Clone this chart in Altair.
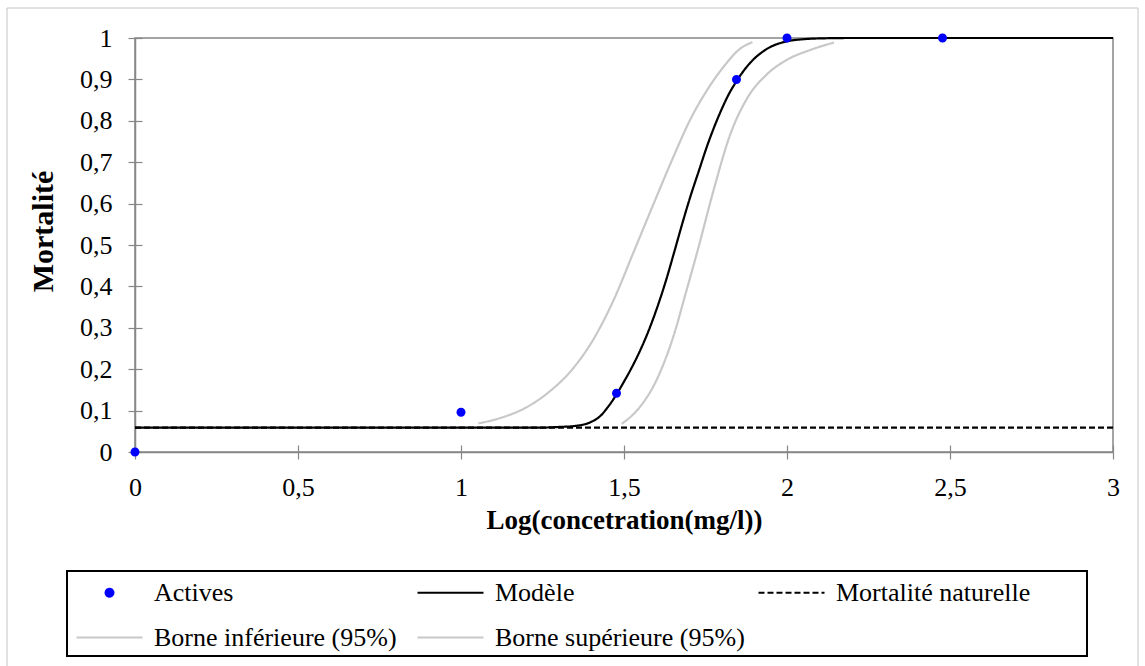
import altair as alt
import pandas as pd

# Series names, in legend order
SERIES = [
    "Actives",
    "Modèle",
    "Mortalité naturelle",
    "Borne inférieure (95%)",
    "Borne supérieure (95%)",
]
COLORS = ["#0000FF", "#000000", "#000000", "#C8C8C8", "#C8C8C8"]
DASHES = [[1, 0], [1, 0], [6, 3], [1, 0], [1, 0]]

# Observed mortality (log10 of concentration)
obs_x = [0, 1.0, 1.477, 1.845, 2.0, 2.477]
obs_y = [0, 0.096, 0.142, 0.900, 1.0, 1.0]

# Fitted model
model_x = [0, 1.0, 1.25, 1.30, 1.35, 1.40, 1.426, 1.45, 1.477, 1.50, 1.529, 1.55,
           1.58, 1.60, 1.631, 1.653, 1.68, 1.702, 1.73, 1.754, 1.794, 1.82, 1.847,
           1.887, 1.937, 2.0, 2.05, 2.1, 2.2, 3.0]
model_y = [0.059, 0.059, 0.059, 0.0605, 0.063, 0.073, 0.086, 0.108, 0.139, 0.170,
           0.212, 0.246, 0.302, 0.345, 0.420, 0.480, 0.555, 0.613, 0.680, 0.737,
           0.818, 0.862, 0.898, 0.940, 0.973, 0.992, 0.997, 0.999, 1.0, 1.0]

# 95 % confidence bounds
lower_x = [1.053, 1.12, 1.201, 1.273, 1.345, 1.406, 1.467, 1.529, 1.59, 1.651,
           1.702, 1.754, 1.805, 1.856, 1.894]
lower_y = [0.069, 0.082, 0.108, 0.147, 0.203, 0.272, 0.365, 0.482, 0.598, 0.712,
           0.801, 0.873, 0.930, 0.974, 0.990]
upper_x = [1.493, 1.549, 1.60, 1.651, 1.692, 1.726, 1.774, 1.825, 1.876, 1.938,
           1.999, 2.071, 2.144]
upper_y = [0.068, 0.109, 0.174, 0.278, 0.391, 0.487, 0.630, 0.765, 0.852, 0.912,
           0.947, 0.971, 0.989]

# Natural mortality
natural_x = [0, 3.0]
natural_y = [0.059, 0.059]

x_ticks = [0, 0.5, 1, 1.5, 2, 2.5, 3]
y_ticks = [0, 0.1, 0.2, 0.3, 0.4, 0.5, 0.6, 0.7, 0.8, 0.9, 1]

# Legend symbols: small dot and horizontal strokes (unit-space paths)
DOT = "M-0.24,0A0.24,0.24,0,1,0,0.24,0A0.24,0.24,0,1,0,-0.24,0Z"
STROKE = "M-2,0H2"
SHAPES = [DOT, STROKE, STROKE, STROKE, STROKE]

curves = []
for name, xs, ys in [
    ("Modèle", model_x, model_y),
    ("Mortalité naturelle", natural_x, natural_y),
    ("Borne inférieure (95%)", lower_x, lower_y),
    ("Borne supérieure (95%)", upper_x, upper_y),
]:
    curves.append(pd.DataFrame({"x": xs, "y": ys, "serie": name}))
lines_df = pd.concat(curves, ignore_index=True)
obs_df = pd.DataFrame({"x": obs_x, "y": obs_y, "serie": "Actives"})

FONT = "Liberation Serif"
W, H = 978, 414

legend = alt.Legend(
    orient="none", legendX=-43, legendY=537, columns=3, direction="horizontal",
    title=None, symbolSize=1089, symbolStrokeWidth=2, labelFont=FONT,
    labelFontSize=26, labelColor="black", labelOffset=27, columnPadding=9,
    rowPadding=14, gridAlign="all", padding=0, labelLimit=500,
)
color = alt.Color("serie:N", scale=alt.Scale(domain=SERIES, range=COLORS), legend=legend)
dash = alt.StrokeDash("serie:N", scale=alt.Scale(domain=SERIES, range=DASHES), legend=legend)
shape = alt.Shape("serie:N", scale=alt.Scale(domain=SERIES, range=SHAPES), legend=legend)

x_scale = alt.Scale(domain=[0, 3], nice=False, zero=False)
y_scale = alt.Scale(domain=[0, 1], nice=False)
label_expr = "replace(toString(datum.value), '.', ',')"

x_main = alt.X("x:Q", scale=x_scale, axis=alt.Axis(
    values=x_ticks, labelExpr=label_expr, tickSize=7, labelPadding=15,
    labelFlush=False, title="Log(concetration(mg/l))", titleFontSize=27,
    titleX=489, titleY=55, titleBaseline="top"))
y_main = alt.Y("y:Q", scale=y_scale, axis=alt.Axis(
    values=y_ticks, labelExpr=label_expr, tickSize=7, labelPadding=16,
    labelFlush=False, title="Mortalité", titleFontSize=30, titleX=-92,
    titleY=193, titleBaseline="middle", titleAlign="center", titleAngle=-90))

lines = alt.Chart(lines_df).mark_line(interpolate="monotone", strokeWidth=2.2).encode(
    x=x_main, y=y_main, color=color, strokeDash=dash, detail="serie:N"
)

# inner half of the crossing tick marks
x_inner = alt.X("x:Q", scale=x_scale, axis=alt.Axis(
    values=x_ticks, orient="bottom", offset=-7, tickSize=7, labels=False,
    domain=False, title=None))
y_inner = alt.Y("y:Q", scale=y_scale, axis=alt.Axis(
    values=y_ticks, orient="left", offset=-7, tickSize=7, labels=False,
    domain=False, title=None))

points = alt.Chart(obs_df).mark_point(filled=True, size=1400, opacity=1, strokeWidth=0).encode(
    x=x_inner, y=y_inner, color=color, shape=shape
)

one = pd.DataFrame({"k": [0]})
legend_box = alt.Chart(one).mark_rect(fill=None, stroke="black", strokeWidth=2).encode(
    x=alt.value(-68), x2=alt.value(952), y=alt.value(533), y2=alt.value(618)
)
outer_box = alt.Chart(one).mark_rect(fill=None, stroke="#C4C4C4", strokeWidth=1).encode(
    x=alt.value(-128), x2=alt.value(1003), y=alt.value(-30), y2=alt.value(640)
)

chart = (
    alt.layer(outer_box, legend_box, lines, points)
    .resolve_axis(x="independent", y="independent")
    .properties(
        width=W, height=H,
        autosize=alt.AutoSizeParams(type="none"),
        padding={"left": 135, "top": 38, "right": 32, "bottom": 214},
        background="white",
    )
    .configure_view(stroke="#878787", strokeWidth=1.5)
    .configure_axis(
        grid=False, domainColor="#878787", domainWidth=1.5, tickColor="#878787",
        tickWidth=1.2, labelFont=FONT, labelFontSize=26, labelColor="black",
        titleFont=FONT, titleFontSize=26, titleFontWeight="bold", titleColor="black",
    )
)

chart.save("out.html", embed_options={"renderer": "svg", "actions": False})
